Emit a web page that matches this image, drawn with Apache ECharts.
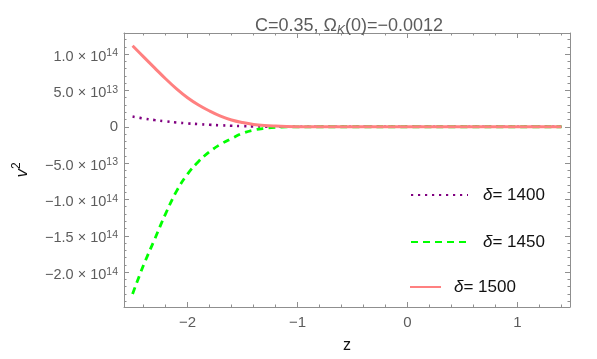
<!DOCTYPE html>
<html>
<head>
<meta charset="utf-8">
<script src="https://cdn.jsdelivr.net/npm/echarts@6/dist/echarts.min.js"></script>
<style>html,body{margin:0;padding:0;background:#fff}#c{width:597px;height:359px}</style>
</head>
<body>
<div id="c"></div>
<script>
// ---- data ----
const zValues = [-2.5, -2.4, -2.3, -2.2, -2.1, -2.0, -1.9, -1.8, -1.7, -1.6, -1.5, -1.4, -1.3, -1.2, -1.1, -1.0, -0.8, -0.5, 0, 0.5, 1.0, 1.4];
const v1400 = [1.40e13, 1.14e13, 9.2e12, 7.5e12, 5.9e12, 4.6e12, 3.6e12, 2.7e12, 2.0e12, 1.4e12, 9e11, 5e11, 2.5e11, 1.2e11, 5e10, 2e10, 0, 0, 0, 0, 0, 0];
const v1450 = [-2.30e14, -1.903e14, -1.551e14, -1.198e14, -8.86e13, -6.51e13, -4.78e13, -3.44e13, -2.41e13, -1.62e13, -9.0e12, -4.5e12, -2.2e12, -9e11, -3e11, -1e11, -2e10, 0, 0, 0, 0, 0];
const v1500 = [1.114e14, 9.62e13, 8.11e13, 6.61e13, 5.22e13, 4.0e13, 3.0e13, 2.17e13, 1.46e13, 9.3e12, 5.8e12, 3.2e12, 1.7e12, 9e11, 4e11, 1.5e11, 3e10, 0, 0, 0, 0, 0];
const seriesNames = ['δ= 1400', 'δ= 1450', 'δ= 1500'];

const xTickValues = [-2, -1, 0, 1];
const xTickLabels = ['−2', '−1', '0', '1'];
const yTickValues = [1e14, 5e13, 0, -5e13, -1e14, -1.5e14, -2e14];
const yTickLabels = ['{m|1.0 × 10}{e|14}', '{m|5.0 × 10}{e|13}', '0', '{m|−5.0 × 10}{e|13}', '{m|−1.0 × 10}{e|14}', '{m|−1.5 × 10}{e|14}', '{m|−2.0 × 10}{e|14}'];
const titleText = 'C=0.35, Ω{k|K}(0)=−0.0012';

// ---- layout / style ----
const X_MIN = -2.578, X_MAX = 1.478;
const Y_MIN = -2.48e14, Y_MAX = 1.29e14;
const FONT = '"Liberation Sans", Arial, sans-serif';
const FRAME = '#8f8f8f';
const LABEL = '#5c5c5c';

const xMinor = [];
for (let i = -13; i <= 7; i++) { const v = +(i * 0.2).toFixed(1); if (Math.abs(v - Math.round(v)) > 1e-9) xMinor.push(v); }
const yMinor = [];
for (let i = -24; i <= 12; i++) { if (i % 5 !== 0) yMinor.push(i * 1e13); }

function xAx(pos, values, len, showLine, label) {
  return {
    type: 'value', position: pos, min: X_MIN, max: X_MAX,
    axisLine: { show: showLine, onZero: false, lineStyle: { color: FRAME, width: 1 } },
    axisTick: { show: true, inside: true, length: len, customValues: values, lineStyle: { color: FRAME, width: 1 } },
    axisLabel: label ? {
      show: true, customValues: xTickValues, margin: 8, color: LABEL, fontSize: 15, fontFamily: FONT,
      formatter: v => { const i = xTickValues.findIndex(t => Math.abs(t - v) < 1e-9); return i >= 0 ? xTickLabels[i] : ''; }
    } : { show: false },
    splitLine: { show: false }, minorTick: { show: false }
  };
}
function yAx(pos, values, len, showLine, label) {
  return {
    type: 'value', position: pos, min: Y_MIN, max: Y_MAX,
    axisLine: { show: showLine, onZero: false, lineStyle: { color: FRAME, width: 1 } },
    axisTick: { show: true, inside: true, length: len, customValues: values, lineStyle: { color: FRAME, width: 1 } },
    axisLabel: label ? {
      show: true, customValues: yTickValues, margin: 6, color: LABEL, fontSize: 15, fontFamily: FONT, lineHeight: 20,
      formatter: v => { const i = yTickValues.findIndex(t => Math.abs(t - v) < 1e3); return i >= 0 ? yTickLabels[i] : ''; },
      rich: {
        m: { fontSize: 14.5, color: LABEL, fontFamily: FONT, verticalAlign: 'bottom' },
        e: { fontSize: 10.5, color: LABEL, fontFamily: FONT, verticalAlign: 'top', padding: [4, 0, 0, 0] }
      }
    } : { show: false },
    splitLine: { show: false }, minorTick: { show: false }
  };
}

const xAxes = [
  Object.assign(xAx('bottom', xTickValues, 5, true, true), {
    name: 'z', nameLocation: 'middle', nameGap: 31,
    nameTextStyle: { color: '#111', fontSize: 16, fontFamily: FONT }
  }),
  xAx('bottom', xMinor, 2.5, false, false),
  xAx('top', xTickValues, 5, true, false),
  xAx('top', xMinor, 2.5, false, false)
];
const yAxes = [
  Object.assign(yAx('left', yTickValues, 5, true, true), {
    name: '{v|v}{s|2}', nameLocation: 'middle', nameGap: 93, nameRotate: 90,
    nameTextStyle: {
      color: '#111', fontFamily: FONT, lineHeight: 20,
      rich: {
        v: { fontSize: 17, fontStyle: 'italic', color: '#111', fontFamily: FONT, verticalAlign: 'bottom' },
        s: { fontSize: 12, color: '#111', fontFamily: FONT, verticalAlign: 'top' }
      }
    }
  }),
  yAx('left', yMinor, 2.5, false, false),
  yAx('right', yTickValues, 5, true, false),
  yAx('right', yMinor, 2.5, false, false)
];

function pairs(vals) { return zValues.map((z, i) => [z, vals[i]]); }

const lineDefs = [
  { name: seriesNames[0], vals: v1400, color: '#800080', type: [2.2, 4.8], width: 2.6 },
  { name: seriesNames[1], vals: v1450, color: '#00ff00', type: [7, 5], width: 2.8 },
  { name: seriesNames[2], vals: v1500, color: '#ff8080', type: 'solid', width: 3 }
];

const series = lineDefs.map(d => ({
  name: d.name, type: 'line', xAxisIndex: 0, yAxisIndex: 0,
  data: pairs(d.vals), symbol: 'none', showSymbol: false,
  smooth: 0.4, clip: true,
  lineStyle: { color: d.color, width: d.width, type: d.type, cap: 'butt' },
  itemStyle: { color: d.color },
  emphasis: { disabled: true }
}));

const legendFmt = name => '{d|δ}' + name.slice(1);
const legendText = (pad) => ({
  color: '#111', fontSize: 17, fontFamily: FONT, lineHeight: 20, padding: [0, 0, 0, pad],
  rich: { d: { fontStyle: 'italic', fontSize: 17, color: '#111', fontFamily: FONT } }
});
const legends = [
  { data: [seriesNames[0]], left: 405, top: 180, itemWidth: 57, pad: 10 },
  { data: [seriesNames[1]], left: 405, top: 227, itemWidth: 57, pad: 10 },
  { data: [seriesNames[2]], left: 404, top: 272, itemWidth: 31, pad: 8 }
].map(l => ({
  data: l.data, left: l.left, top: l.top, itemWidth: l.itemWidth, itemHeight: 20,
  orient: 'vertical', selectedMode: false, formatter: legendFmt,
  textStyle: legendText(l.pad), itemStyle: { opacity: 0 }
}));

const chart = echarts.init(document.getElementById('c'), null, { renderer: 'canvas' });
chart.setOption({
  animation: false,
  backgroundColor: '#ffffff',
  title: {
    text: titleText, left: 250, top: 10,
    textStyle: {
      fontSize: 18, fontWeight: 'normal', color: LABEL, fontFamily: FONT, lineHeight: 22,
      rich: { k: { fontSize: 12, fontStyle: 'italic', color: LABEL, fontFamily: FONT, verticalAlign: 'bottom', lineHeight: 14 } }
    }
  },
  grid: { left: 124, right: 27, top: 33, bottom: 52, containLabel: false },
  legend: legends,
  xAxis: xAxes,
  yAxis: yAxes,
  series: series
});
</script>
</body>
</html>
